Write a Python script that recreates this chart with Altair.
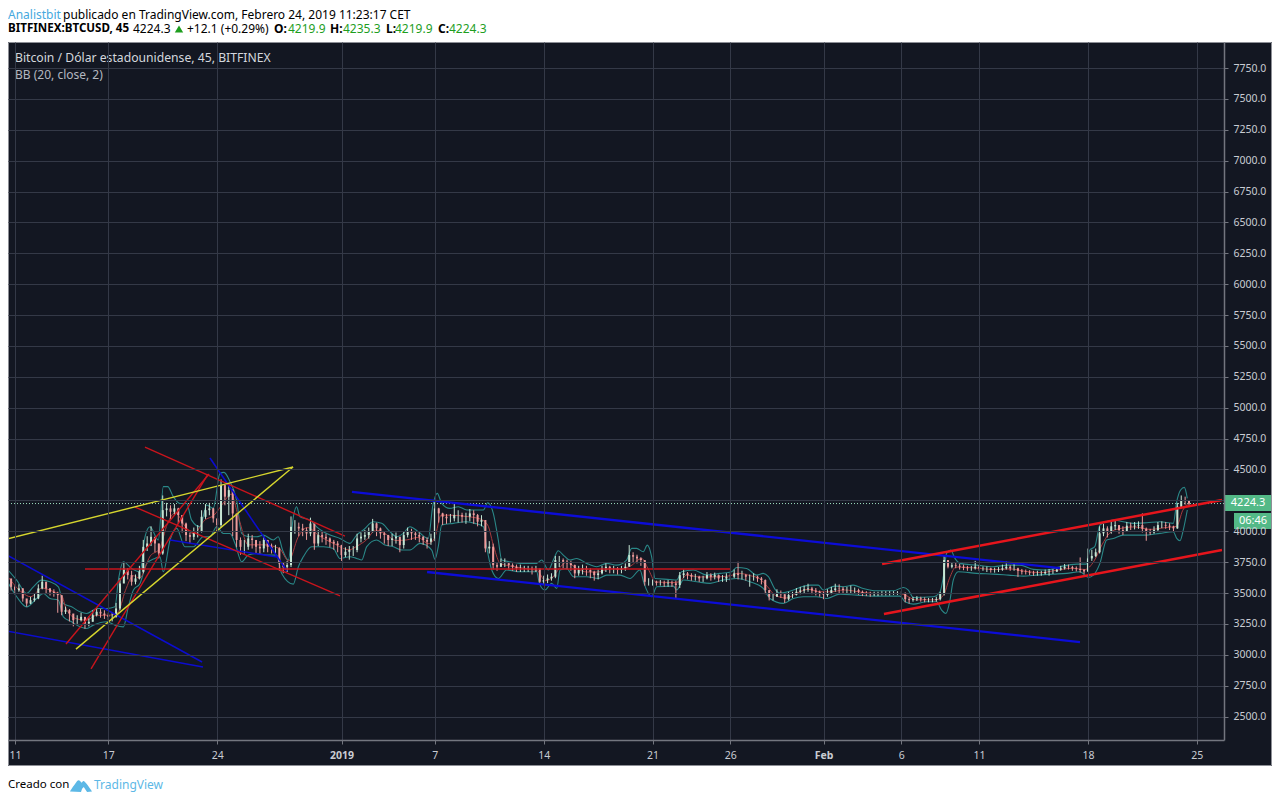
import altair as alt
import pandas as pd

BG = "#131722"
FONT = "Noto Sans"

# ---- price series, one row per day, four samples per day, starting at day -0.5 (11 Dec = day 0)
closes = [
3618,3550,3523,3537, 3456,3415,3442,3456, 3537,3591,3537,3510, 3496,3483,3348,3361,
3334,3280,3280,3307, 3253,3267,3321,3348, 3334,3321,3307,3307, 3375,3577,3699,3645,
3591,3618,3672,3874, 3901,3955,3901,3820, 4171,4185,4158,4185, 4131,4063,3969,3955,
3996,3996,4117,4171, 4185,4104,4050,4374, 4280,4333,4144,3929, 3874,3874,3942,3929,
3874,3861,3929,3874, 3861,3861,3739,3712, 3726,4036,4036,4023, 4009,3982,4063,3901,
3969,3955,3942,3915, 3901,3888,3807,3834,
3848,3848,3942,3956, 3969,3996,4064,4023, 3983,3970,3929,3942, 3956,3888,3969,3996,
3983,3970,3956,3929, 3915,3942,4185,4145, 4118,4105,4105,4131, 4131,4118,4118,4145,
4131,4077,4091,3861, 3875,3726,3713,3740, 3740,3726,3713,3699, 3699,3699,3699,3690,
3699,3591,3605,3618, 3632,3767,3767,3753, 3740,3726,3659,3686, 3699,3686,3672,3645,
3659,3699,3713,3699, 3699,3686,3699,3713, 3807,3794,3780,3767, 3591,3591,3591,3583,
3583,3578,3583,3578, 3565,3645,3659,3645, 3632,3632,3618,3618, 3645,3632,3645,3618,
3618,3632,3632,3659, 3645,3645,3632,3632, 3632,3618,3605,3524,
3470,3470,3497,3490, 3450,3484,3484,3510, 3520,3530,3537,3520, 3510,3497,3484,3500,
3524,3537,3535,3524, 3524,3524,3524,3510, 3500,3497,3490,3492, 3492,3497,3497,3497,
3500,3500,3500,3450, 3443,3450,3457,3450, 3443,3443,3443,3450, 3497,3767,3713,3725,
3720,3713,3705,3700, 3700,3713,3700,3700, 3700,3686,3686,3690, 3700,3713,3700,3700,
3680,3673,3670,3665, 3659,3659,3659,3670, 3673,3673,3690,3700, 3713,3710,3700,3695,
3686,3675,3780,3800, 3830,3983,4023,3996, 4040,4050,4010,4000, 4045,4040,4045,4050,
4020,3996,3990,4010, 4050,4050,4045,4037, 4023,4199,4253,4245, 4224]
highs = [
3660,3600,3560,3570, 3540,3450,3470,3500, 3570,3640,3590,3540, 3530,3510,3480,3390,
3370,3330,3320,3340, 3300,3310,3360,3380, 3370,3360,3340,3340, 3420,3620,3750,3700,
3680,3650,3720,3930, 3960,4040,3950,3900, 4290,4230,4210,4220, 4190,4130,4070,3990,
4030,4050,4170,4220, 4230,4190,4100,4420, 4340,4390,4340,4010, 3950,3930,3980,3970,
3930,3920,3960,3930, 3900,3890,3870,3750, 3760,4120,4090,4070, 4060,4030,4110,3990,
4010,4000,3980,3950, 3930,3920,3890,3870,
3880,3880,3980,3990, 4010,4030,4100,4070, 4030,4000,3970,3980, 3990,3940,4000,4030,
4020,4000,3990,3960, 3950,3980,4250,4190, 4150,4140,4140,4226, 4170,4150,4150,4180,
4170,4140,4130,4091, 3920,3900,3750,3780, 3780,3750,3740,3730, 3730,3720,3720,3715,
3720,3650,3640,3650, 3660,3800,3800,3780, 3770,3760,3730,3720, 3730,3720,3700,3680,
3690,3720,3740,3720, 3720,3710,3720,3740, 3888,3830,3810,3790, 3760,3620,3610,3600,
3605,3600,3605,3600, 3600,3670,3690,3670, 3660,3655,3640,3640, 3670,3660,3665,3650,
3645,3660,3660,3690, 3753,3680,3655,3650, 3660,3640,3630,3610,
3510,3500,3530,3520, 3490,3510,3510,3540, 3550,3560,3575,3550, 3540,3520,3510,3530,
3550,3575,3570,3550, 3550,3560,3545,3535, 3520,3515,3510,3510, 3510,3515,3515,3515,
3515,3515,3515,3505, 3465,3470,3475,3470, 3465,3460,3460,3470, 3510,3800,3760,3745,
3745,3735,3730,3720, 3720,3760,3725,3715, 3715,3705,3705,3710, 3730,3755,3725,3750,
3705,3695,3690,3685, 3680,3680,3680,3690, 3695,3695,3710,3720, 3735,3730,3720,3715,
3788,3695,3860,3850, 3860,4040,4060,4040, 4085,4090,4045,4040, 4075,4070,4075,4080,
4145,4030,4020,4040, 4075,4080,4075,4065, 4045,4230,4290,4280, 4235]
lows = [
3590,3520,3500,3510, 3430,3390,3410,3430, 3450,3530,3500,3480, 3470,3340,3320,3330,
3270,3230,3250,3270, 3210,3230,3270,3310, 3300,3290,3280,3270, 3300,3360,3620,3610,
3560,3570,3610,3660, 3840,3880,3830,3780, 3810,4120,4100,4130, 4060,3990,3920,3900,
3930,3950,3990,4100, 4130,4070,4000,4030, 4210,4130,3960,3870, 3810,3820,3850,3860,
3820,3820,3830,3830, 3820,3810,3680,3660, 3670,3710,3980,3960, 3960,3930,3960,3850,
3880,3910,3890,3870, 3850,3830,3760,3790,
3770,3800,3830,3910, 3930,3940,3990,3960, 3940,3900,3880,3880, 3900,3830,3860,3950,
3930,3930,3910,3890, 3860,3890,3920,4070, 4050,4060,4070,4080, 4070,4070,4060,4080,
4060,4040,4040,3830, 3820,3690,3680,3710, 3710,3690,3680,3670, 3670,3670,3670,3650,
3670,3570,3570,3580, 3600,3620,3710,3700, 3690,3680,3620,3640, 3650,3640,3620,3600,
3610,3650,3670,3660, 3660,3650,3660,3680, 3720,3750,3740,3720, 3560,3560,3560,3560,
3560,3550,3550,3550, 3456,3540,3620,3610, 3600,3600,3590,3590, 3610,3600,3610,3590,
3590,3590,3600,3620, 3610,3610,3600,3551, 3600,3590,3570,3490,
3440,3440,3470,3460, 3420,3440,3460,3480, 3490,3500,3510,3490, 3480,3470,3450,3470,
3490,3510,3500,3500, 3500,3500,3495,3485, 3475,3475,3470,3475, 3475,3480,3480,3480,
3485,3485,3485,3425, 3415,3430,3435,3430, 3425,3425,3425,3430, 3440,3480,3700,3700,
3700,3690,3685,3680, 3680,3690,3680,3680, 3670,3665,3665,3670, 3680,3690,3680,3680,
3630,3650,3650,3645, 3640,3640,3640,3650, 3640,3655,3670,3680, 3690,3690,3680,3675,
3665,3655,3670,3760, 3790,3820,3960,3950, 3980,4010,3980,3970, 4010,4010,4015,4020,
3990,3923,3970,3980, 4000,4025,4020,4010, 4000,4020,4190,4215, 4210]

# ---- Bollinger bands, read as vertices
upper_days = [-0.54,0.11,0.75,1.18,1.71,2.25,2.79,3.11,3.64,4.18,4.61,5.25,5.9,6.43,6.65,6.97,7.5,8.04,8.36,8.68,
 9.22,9.54,9.82,10.18,10.61,11.04,11.36,11.9,12.33,12.75,13.18,13.44,13.83,14.25,14.58,15.0,15.54,15.97,16.61,16.93,
 17.21,17.58,17.9,18.11,18.33,18.97,19.4,19.83,20.26,20.9,21.54,21.97,22.4,23.04,23.58,24.12,24.54,24.97,25.4,25.94,
 26.58,26.86,27.16,27.44,27.97,28.51,29.05,29.69,30.12,30.4,30.76,31.08,31.3,31.83,32.48,33.55,33.87,34.3,34.62,34.94,
 35.26,35.69,36.12,36.76,37.41,38.05,38.69,39.33,39.66,39.98,40.41,40.66,40.94,41.16,42.12,42.55,42.87,43.62,44.48,45.34,
 46.09,46.41,47.05,47.7,48.12,48.45,48.88,49.2,50.05,50.59,51.13,51.66,51.98,52.73,53.27,53.9,54.55,55.41,56.49,57.13,
 57.45,57.77,59.06,59.49,59.7,59.91,60.17,60.45,60.77,61.84,62.91,63.88,64.63,65.49,66.35,67.2,68.27,68.9,69.12,69.44,
 69.77,70.2,70.63,71.27,71.92,72.78,73.63,74.49,74.71,74.96,75.2,75.39]
upper_vals = [3699,3604,3496,3550,3604,3591,3550,3415,3388,3348,3334,3375,3375,3388,3604,3753,3699,3672,3955,4036,
 3929,4361,4361,4280,4225,4225,4090,4036,4212,4185,4468,4477,4401,4252,3982,3955,3955,3969,3929,3955,
 3847,3766,4117,4198,4117,4090,4036,3996,3969,3942,3902,3969,4010,4077,4064,3996,3956,3983,4037,3996,
 3942,4199,4307,4226,4185,4199,4172,4172,4172,4231,4145,3929,3767,3753,3740,3740,3767,3686,3767,3842,
 3807,3767,3780,3740,3713,3740,3726,3767,3861,3861,3834,3888,3794,3618,3610,3605,3672,3686,3645,3659,
 3672,3707,3699,3645,3659,3632,3530,3500,3524,3551,3564,3564,3524,3556,3551,3564,3537,3518,3518,3545,
 3524,3464,3470,3510,3632,3821,3848,3780,3740,3726,3713,3726,3726,3691,3686,3713,3734,3734,3848,3875,
 4050,4077,4091,4077,4064,4069,4077,4064,4239,4334,4355,4266]
lower_days = [-0.54,0.11,0.75,1.39,1.82,2.25,2.79,3.11,3.64,4.18,4.61,5.04,5.9,6.43,6.97,7.29,7.61,8.04,8.47,9.0,
 9.32,9.54,9.97,10.4,10.93,11.47,12.11,12.54,12.97,13.4,13.83,14.15,14.58,15.0,15.54,16.18,16.83,17.15,17.9,18.22,
 18.54,19.08,19.83,20.47,20.9,21.54,21.97,22.3,22.62,23.26,23.79,24.33,24.87,25.4,26.05,26.8,27.01,27.22,27.44,28.19,
 29.05,29.58,30.12,30.33,30.66,31.08,31.62,32.48,33.55,33.72,34.08,34.51,34.84,35.05,35.48,35.91,36.76,37.51,38.05,38.91,
 39.55,40.19,40.45,40.94,41.27,42.34,42.55,42.98,43.84,44.7,45.55,46.41,47.27,48.12,48.55,49.41,50.05,50.7,51.55,52.2,
 53.05,54.13,55.2,56.92,57.24,57.77,58.63,59.27,59.59,59.87,60.13,60.34,60.66,61.84,62.91,63.88,64.84,65.7,66.77,67.63,
 68.49,69.03,69.35,69.77,70.2,70.63,71.27,71.92,72.78,73.63,74.49,74.71,74.92,75.13,75.39]
lower_vals = [3604,3470,3388,3456,3496,3456,3442,3307,3267,3226,3213,3240,3267,3240,3226,3388,3523,3577,3739,3780,
 3793,3672,3929,4023,3874,3874,3955,3955,4036,3982,3982,3901,3753,3807,3820,3807,3807,3658,3572,3712,
 3793,3874,3874,3861,3780,3794,3780,3767,3875,3929,3888,3875,3848,3848,3902,3848,3772,3875,4050,4064,
 4077,4064,4037,3875,3686,3618,3686,3672,3672,3578,3524,3578,3537,3686,3699,3632,3632,3618,3645,3645,
 3618,3686,3578,3470,3551,3556,3524,3605,3591,3578,3605,3618,3591,3537,3456,3416,3456,3470,3470,3456,
 3491,3483,3475,3475,3429,3410,3429,3429,3362,3335,3443,3605,3672,3659,3653,3645,3637,3645,3653,3659,
 3672,3626,3645,3740,3929,3942,3969,3969,3969,3983,3996,3942,3923,4010,4172]
basis_days = [-0.5,0.5,1,1.75,2.5,3,3.3,4,4.6,5.25,6,6.6,7.1,7.6,8,8.7,9.3,9.8,10.3,11,11.5,12.2,12.8,13.4,13.9,14.4,15,16,17,17.6,
 18.2,18.8,19.6,20.5,21.5,22,22.6,23.2,23.8,24.5,25.2,25.9,26.6,27,27.4,28,29,29.9,30.4,30.8,31.2,32,33,33.6,34.1,34.6,35,35.5,36.1,36.8,
 37.5,38.2,39,39.6,40.3,40.7,41.2,42.3,42.7,43.2,44,45,46,46.5,47.3,47.9,48.4,48.9,49.6,50.3,51,51.8,52.5,53.3,54.5,55.5,56.8,57.3,57.9,59.2,
 59.7,60.1,60.5,61.5,63,64,65,66,67,68,68.8,69.4,69.9,70.4,71,72,73,74,74.7,75.1,75.5]
basis_vals = [3640,3500,3470,3540,3510,3480,3370,3290,3280,3320,3320,3340,3520,3640,3620,3800,3860,4060,4150,4030,3980,4090,4130,4230,4300,4100,3890,3890,3860,3760,
 3950,4030,3960,3900,3850,3880,3930,4010,3980,3925,3930,3950,3900,3950,4130,4130,4120,4100,4050,3870,3740,3715,3695,3680,3600,3630,3700,3750,3700,3670,
 3670,3695,3695,3720,3780,3700,3590,3585,3590,3645,3630,3630,3640,3660,3640,3615,3550,3480,3460,3500,3530,3510,3510,3525,3505,3495,3497,3480,3445,3445,
 3480,3620,3710,3705,3690,3695,3675,3665,3685,3700,3690,3760,3890,3985,4020,4035,4015,4030,4040,4170,4230]

# ---- drawn trend lines: (name, day0, price0, day1, price1, group)
trend_lines = [
 ("b1",-0.51,3807,12.03,2941,"thinblue"), ("b2",-0.51,3192,12.09,2901,"thinblue"),
 ("b3",12.54,4593,17.49,3678,"thinblue"), ("b4",9.97,3929,16.85,3791,"thinblue"),
 ("b5",21.67,4318,67.2,3702,"blue"), ("b6",26.5,3670,68.49,3103,"blue"),
 ("r1",8.36,4682,21.22,3961,"red"), ("r2",7.72,4196,20.9,3476,"red"),
 ("r3",3.28,3087,12.48,4463,"red"), ("r4",4.89,2885,12.41,4463,"red"),
 ("r5",4.5,3694,45.98,3694,"red"),
 ("y1",-0.51,3937,17.88,4520,"yellow"), ("y2",3.92,3046,17.88,4520,"yellow"),
 ("t1",55.76,3735,77.62,4253,"thick"), ("t2",55.88,3330,77.62,3848,"thick"),
]

tick_days = [0,6,13,21,27,34,41,46,52,57,62,69,76]
tick_labels = ["11","17","24","2019","7","14","21","26","Feb","6","11","18","25"]
price_ticks = [2500 + 250*i for i in range(22)]
last_price = 4224.3

candle = pd.DataFrame({"day":[-0.5+0.25*i for i in range(len(closes))],"close":closes,"high":highs,"low":lows})
candle["open"] = candle["close"].shift(1).fillna(candle["close"])
candle["dir"] = ["up" if c>=o else "down" for c,o in zip(candle["close"],candle["open"])]
rows=[]
for n,d0,p0,d1,p1,g in trend_lines:
    rows += [{"n":n,"day":d0,"price":p0,"g":g},{"n":n,"day":d1,"price":p1,"g":g}]
trend = pd.DataFrame(rows)
bands = pd.concat([
    pd.DataFrame({"day":upper_days,"price":upper_vals,"s":"upper"}),
    pd.DataFrame({"day":lower_days,"price":lower_vals,"s":"lower"})])
basis = pd.DataFrame({"day":basis_days,"price":basis_vals})

x_scale = alt.Scale(domain=[-0.45,77.75],nice=False,zero=False)
y_scale = alt.Scale(domain=[2310,7961],nice=False,zero=False)
x_axis = alt.Axis(
    values=tick_days,title=None,orient="bottom",grid=True,gridColor="#343947",gridWidth=1,
    domainColor="#73767f",domainWidth=1.5,tickColor="#73767f",tickSize=4,labelColor="#c9ccd3",labelFont=FONT,labelFontSize=10.5,
    labelPadding=6,labelFontWeight=alt.condition("datum.value == 21 || datum.value == 52",alt.value("bold"),alt.value("normal")),
    labelExpr="["+",".join("'%s'"%t for t in tick_labels)+"][indexof(["+",".join(map(str,tick_days))+"],datum.value)]",
    labelOverlap=False,zindex=1)
y_axis = alt.Axis(
    values=price_ticks,title=None,orient="right",grid=True,gridColor="#343947",gridWidth=1,
    labelExpr="datum.value == 4250 ? '' : format(datum.value,'.1f')",
    tickOpacity=alt.condition("datum.value == 4250",alt.value(0),alt.value(1)),
    domainColor="#73767f",domainWidth=1.5,tickColor="#73767f",tickSize=4,labelColor="#c9ccd3",labelFont=FONT,labelFontSize=10.5,
    labelPadding=5,labelOverlap=False,zindex=1)
X = alt.X("day:Q",scale=x_scale,axis=x_axis)
def Y(f):
    return alt.Y(f,type="quantitative",scale=y_scale,axis=y_axis)

def label(t,x,y,color="#000000",size=12,weight="normal",align="left"):
    return alt.Chart(pd.DataFrame({"t":[t]})).mark_text(align=align,baseline="middle",font=FONT,fontSize=size,
        fontWeight=weight,color=color).encode(text="t:N",x=alt.value(x),y=alt.value(y))

def box(x,x2,y,y2,fill):
    return alt.Chart(pd.DataFrame({"a":[0]})).mark_rect(color=fill).encode(
        x=alt.value(x),x2=alt.value(x2),y=alt.value(y),y2=alt.value(y2))

W,H = 1216,698
right_panel = box(W,1264,0,724,BG)
bottom_panel = box(0,W,H,724,BG)
frame = alt.Chart(pd.DataFrame({"a":[0]})).mark_rect(fill=None,stroke="#8d8f96",strokeWidth=1).encode(
    x=alt.value(0.5),x2=alt.value(1263.5),y=alt.value(0.5),y2=alt.value(723.5))

price_line = alt.Chart(pd.DataFrame({"price":[last_price]})).mark_rule(color="#9fe0c0",strokeDash=[1,2],strokeWidth=1).encode(y=Y("price"))
band_lines = alt.Chart(bands).mark_line(color="#2a8888",strokeWidth=1.1,interpolate="monotone",clip=True).encode(
    x=X,y=Y("price"),detail="s:N")
basis_line = alt.Chart(basis).mark_line(color="#a83a3c",strokeWidth=1,interpolate="monotone",clip=True).encode(
    x=X,y=Y("price"))
dir_color = alt.Color("dir:N",scale=alt.Scale(domain=["up","down"],range=["#c6e6d4","#ee9c9c"]),legend=None)
wicks = alt.Chart(candle).mark_rule(strokeWidth=1,clip=True).encode(
    x=X,y=Y("low"),y2="high:Q",color=dir_color)
bodies = alt.Chart(candle).mark_rule(strokeWidth=2,clip=True).encode(
    x=X,y=Y("open"),y2="close:Q",color=dir_color)

def trend_layer(group,color,width):
    return alt.Chart(trend[trend["g"]==group]).mark_line(clip=True,color=color,strokeWidth=width).encode(
        x=X,y=Y("price"),detail="n:N")
trend_marks = [
    trend_layer("thinblue","#0c0ccf",1.6),
    trend_layer("blue","#0c0cd8",2.3),
    trend_layer("red","#c9141c",1.4),
    trend_layer("yellow","#d6d62e",1.4),
    trend_layer("thick","#e6151c",2.5),
]

triangle = alt.Chart(pd.DataFrame({"a":[0]})).mark_point(shape="triangle-up",filled=True,color="#1e9e1e",opacity=1,size=70).encode(
    x=alt.value(171),y=alt.value(-13))
logo = alt.Chart(pd.DataFrame({"a":[0]})).mark_point(
    shape="M-1,0.5 C-0.9,0.3 -0.6,-0.1 -0.35,-0.45 C-0.2,-0.6 -0.1,-0.5 0.05,-0.3 L0.2,-0.45 C0.35,-0.5 0.8,0.2 1,0.5 L0.55,0.55 L0.25,0.1 L0.1,0.25 L0,0.55 Z",
    filled=True,color="#5cb8e6",opacity=1,size=484).encode(x=alt.value(73),y=alt.value(744))

GREEN="#1e9e1e"
LINE1, LINE2 = -27, -13
texts = [
 label("Analistbit",0,LINE1,"#46a9de"),
 label("publicado en TradingView.com, Febrero 24, 2019 11:23:17 CET",55,LINE1),
 label("BITFINEX:BTCUSD, 45",0,LINE2,weight="bold",size=11.6),
 label("4224.3",125,LINE2),
 label("+12.1 (+0.29%)",179,LINE2),
 label("O:",266,LINE2,weight="bold"),label("4219.9",280,LINE2,GREEN),
 label("H:",322,LINE2,weight="bold"),label("4235.3",335,LINE2,GREEN),
 label("L:",378,LINE2,weight="bold"),label("4219.9",387,LINE2,GREEN),
 label("C:",430,LINE2,weight="bold"),label("4224.3",441,LINE2,GREEN),
 label("Bitcoin / Dólar estadounidense, 45, BITFINEX",7,16,"#d4d7de",size=12.2),
 label("BB (20, close, 2)",7,33,"#b4b8c0"),
 label("Creado con",0,743,size=11.5),
 label("TradingView",86,743,"#5cb8e6"),
 box(W,1264,453,469,"#53b987"),
 label("4224.3",1240,461,"#ffffff",size=11,align="center"),
 box(1226,1264,471,487,"#53b987"),
 label("06:46",1245,479,"#ffffff",size=11,align="center"),
]

chart = alt.layer(right_panel,bottom_panel,price_line,band_lines,basis_line,wicks,bodies,*trend_marks,
                  *texts,triangle,logo,frame
).properties(
    width=W,height=H,background="#ffffff",
    padding={"left":0,"right":48,"top":34,"bottom":54},
    autosize=alt.AutoSizeParams(type="none")
).configure_view(fill=BG,stroke=None)

chart.save("out.html", embed_options={"renderer": "svg", "actions": False})
